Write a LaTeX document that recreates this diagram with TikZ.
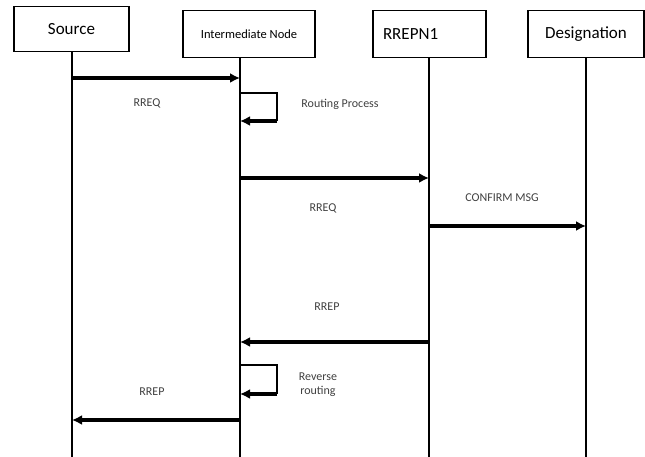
\documentclass[tikz,border=0pt]{standalone}
\usepackage{fontspec}
\setmainfont{Carlito}
\usetikzlibrary{arrows.meta,calc}

\begin{document}
\begin{tikzpicture}[x=1pt,y=-1pt,
    box/.style={draw,line width=1.3pt,minimum height=47pt,inner sep=0pt,font=\fontsize{17}{20}\selectfont},
    life/.style={line width=1.4pt},
    msg/.style={line width=3.4pt,-{Latex[length=10pt,width=10pt]}},
    lbl/.style={font=\fontsize{12}{14}\selectfont,align=center,text=black!75}]
    \useasboundingbox (0,0) rectangle (645,457);
    \node[box,minimum width=115pt,minimum height=45pt] (src) at (71.5,29) {Source};
    \node[box,minimum width=132pt,font=\fontsize{12.5}{14}\selectfont] (inter) at (249,34) {Intermediate Node};
    \node[box,text width=93pt,inner xsep=10pt,align=left] (rrepn) at (429.5,34) {RREPN1};
    \node[box,minimum width=116pt] (dest) at (586,34) {Designation};
    \foreach \n/\x in {src/72,inter/240,rrepn/429,dest/586}{
      \coordinate (L-\n) at (\n.south -| \x,0);
      \coordinate (B-\n) at (\x,457);
      \draw[life] (L-\n) -- (B-\n);
    }
    \draw[msg] (L-src |- 0,78) -- (L-inter |- 0,78);
    \node[lbl] (rreq1) at (147,103) {RREQ};
    \draw[life] (L-inter |- 0,93) -| (277,121) coordinate (loop1);
    \draw[msg] (loop1) -- (L-inter |- loop1);
    \node[lbl] (routing) at (340,104) {Routing Process};
    \draw[msg] (L-inter |- 0,178) -- (L-rrepn |- 0,178);
    \node[lbl] (rreq2) at (323,208) {RREQ};
    \draw[msg] (L-rrepn |- 0,226) -- (L-dest |- 0,226);
    \node[lbl] (confirm) at (502,198) {CONFIRM MSG};
    \draw[msg] (L-rrepn |- 0,342) -- (L-inter |- 0,342);
    \node[lbl] (rrep1) at (327,307) {RREP};
    \draw[life] (L-inter |- 0,365) -| (277,394) coordinate (loop2);
    \draw[msg] (loop2) -- (L-inter |- loop2);
    \node[lbl] (reverse) at (318,385) {Reverse\\routing};
    \draw[msg] (L-inter |- 0,420) -- (L-src |- 0,420);
    \node[lbl] (rrep2) at (152,392) {RREP};
\end{tikzpicture}
\end{document}
